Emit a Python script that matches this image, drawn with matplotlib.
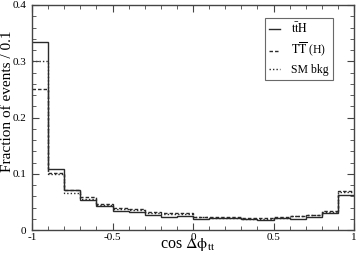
import numpy as np
import matplotlib
matplotlib.use("Agg")
import matplotlib.pyplot as plt
from matplotlib.ticker import MultipleLocator, FixedLocator, FixedFormatter

plt.rcParams['font.family'] = ['Liberation Serif', 'DejaVu Serif']
plt.rcParams['mathtext.fontset'] = 'stix'
plt.rcParams['axes.unicode_minus'] = False

bin_edges = np.round(np.linspace(-1, 1, 21), 2)
tth = [0.334, 0.108, 0.072, 0.053, 0.043, 0.034, 0.032, 0.026, 0.024, 0.025,
       0.020, 0.021, 0.021, 0.019, 0.018, 0.021, 0.019, 0.024, 0.030, 0.062]
tt_h = [0.250, 0.102, 0.071, 0.059, 0.047, 0.040, 0.037, 0.032, 0.031, 0.030,
        0.024, 0.023, 0.023, 0.021, 0.021, 0.023, 0.025, 0.027, 0.034, 0.069]
sm_bkg = [0.300, 0.100, 0.066, 0.055, 0.045, 0.038, 0.035, 0.030, 0.029, 0.028,
          0.023, 0.022, 0.022, 0.020, 0.020, 0.022, 0.025, 0.026, 0.032, 0.067]
labels = [r'$\mathrm{t\bar{t}H}$', r'$\mathrm{T\overline{T}}$ (H)', 'SM bkg']
xticks = [-1, -0.5, 0, 0.5, 1]
xticklabels = ['-1', '-0.5', '0', '0.5', '1']
yticks = [0, 0.1, 0.2, 0.3, 0.4]
yticklabels = ['0', '0.1', '0.2', '0.3', '0.4']

fig = plt.figure(figsize=(3.57, 2.62), dpi=100)
ax = fig.add_axes([32/357, 1-230/262, (354-32)/357, (230-5)/262])

col = '#2a2a2a'
ax.stairs(tth, bin_edges, baseline=None, color=col, lw=1.0, ls='-', label=labels[0])
ax.stairs(tt_h, bin_edges, baseline=None, color=col, lw=1.0, ls=(0, (2.5, 1.5)), label=labels[1])
ax.stairs(sm_bkg, bin_edges, baseline=None, color=col, lw=1.0, ls=(0, (1, 1.5)), label=labels[2])

ax.set_xlim(-1, 1)
ax.set_ylim(0, 0.4)
ax.xaxis.set_major_locator(FixedLocator(xticks))
ax.xaxis.set_major_formatter(FixedFormatter(xticklabels))
ax.yaxis.set_major_locator(FixedLocator(yticks))
ax.yaxis.set_major_formatter(FixedFormatter(yticklabels))
ax.xaxis.set_minor_locator(MultipleLocator(0.1))
ax.yaxis.set_minor_locator(MultipleLocator(0.02))
ax.tick_params(which='both', direction='in', top=True, right=True, labelsize=8, color='#444444')
ax.tick_params(axis='y', pad=4)
ax.tick_params(axis='x', pad=2)
ax.tick_params(which='major', length=5)
ax.tick_params(which='minor', length=3)
for s in ax.spines.values():
    s.set_color('#444444')
    s.set_linewidth(1.0)

ax.set_xlabel(r'cos $\Delta\mathrm{\phi}_{\mathrm{tt}}$', fontsize=11.5, va='baseline')
ax.xaxis.set_label_coords(0.484, -0.078)
ax.set_ylabel('Fraction of events / 0.1', fontsize=11, va='center')
ax.yaxis.set_label_coords(-0.077, 0.571)

leg = ax.legend(loc='upper right', bbox_to_anchor=(0.935, 0.942), borderaxespad=0,
                fontsize=8.5, frameon=True, fancybox=False,
                edgecolor='#444444', handlelength=0.85, handletextpad=1.0, borderpad=0.35,
                labelspacing=0.4)
leg.get_frame().set_linewidth(0.8)

fig.savefig('out.png', dpi=100)
